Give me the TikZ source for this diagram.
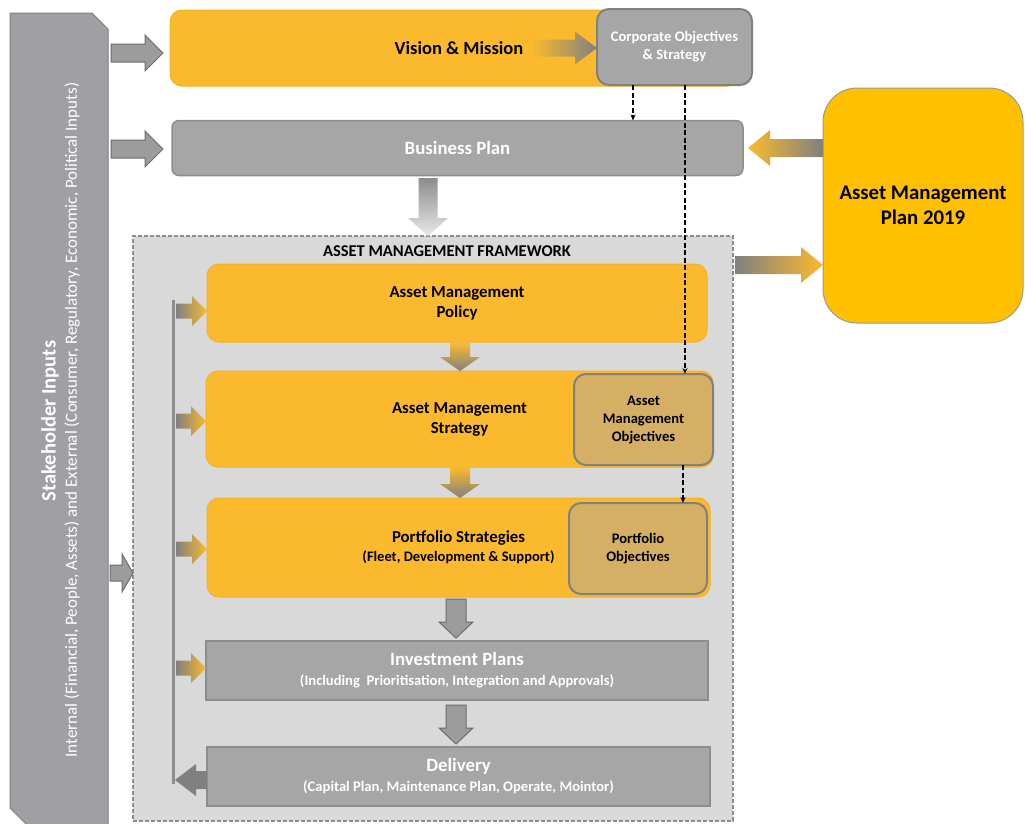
\documentclass[tikz,border=0pt]{standalone}
\usepackage{fontspec}
\setmainfont{Carlito}
\usetikzlibrary{calc,arrows.meta}

\definecolor{amber}{RGB}{251,186,46}
\definecolor{amberline}{RGB}{243,176,38}
\definecolor{gold}{RGB}{255,192,0}
\definecolor{tanfill}{RGB}{212,175,100}
\definecolor{boxgray}{RGB}{166,166,166}
\definecolor{edgegray}{RGB}{128,128,128}
\definecolor{panelgray}{RGB}{160,160,164}
\definecolor{framegray}{RGB}{217,217,217}
\definecolor{arrowgray}{RGB}{156,156,156}
\definecolor{darkarrow}{RGB}{128,128,128}

% horizontal block arrow: style, tail, tip, shaft half-height, head half-height, signed head length
\newcommand\harr[6]{%
  \path[#1] ($(#2)+(0,{-1*(#4)})$) -- ($(#3)+({-1*(#6)},{-1*(#4)})$)
    -- ($(#3)+({-1*(#6)},{-1*(#5)})$) -- (#3) -- ($(#3)+({-1*(#6)},#5)$)
    -- ($(#3)+({-1*(#6)},#4)$) -- ($(#2)+(0,#4)$) -- cycle;}
% vertical block arrow: style, tail, tip, shaft half-width, head half-width, signed head length
\newcommand\varr[6]{%
  \path[#1] ($(#2)+({-1*(#4)},0)$) -- ($(#3)+({-1*(#4)},{-1*(#6)})$)
    -- ($(#3)+({-1*(#5)},{-1*(#6)})$) -- (#3) -- ($(#3)+(#5,{-1*(#6)})$)
    -- ($(#3)+(#4,{-1*(#6)})$) -- ($(#2)+(#4,0)$) -- cycle;}

\begin{document}
\begin{tikzpicture}[x=1pt,y=-1pt,
  every node/.style={inner sep=0pt, outer sep=0pt, align=center},
  ambox/.style={fill=amber, draw=amberline, line width=1pt, rounded corners=12pt,
    font=\bfseries\fontsize{16.8}{20}\selectfont},
  graybox/.style={fill=boxgray, draw=edgegray!90, line width=1.5pt, text=white,
    font=\bfseries\fontsize{18.8}{22}\selectfont},
  objbox/.style={fill=tanfill, draw=edgegray, line width=2pt, rounded corners=12pt,
    font=\bfseries\fontsize{14.6}{18}\selectfont},
  blockgray/.style={fill=arrowgray, draw=edgegray!85!black, line width=1pt},
  link/.style={black, line width=1.3pt, dash pattern=on 5pt off 2.5pt,
    -{Stealth[length=6pt,width=5pt]}},
]
\useasboundingbox (0,0) rectangle (1025,823);

% stakeholder panel
\draw[fill=panelgray, draw=edgegray, line width=1pt]
  (10,13) -- (92,13) -- (108,29) -- (108,830) -- (32,830) -- (10,808) -- cycle;
\node[rotate=90, text=white, font=\bfseries\fontsize{20.5}{24}\selectfont] (shT) at (50,421) {Stakeholder Inputs};
\node[rotate=90, text=white, font=\fontsize{17}{20}\selectfont] (shS) at (72,420)
  {Internal (Financial, People, Assets) and External (Consumer, Regulatory, Economic, Political Inputs)};

% framework container
\node[fill=framegray, draw=edgegray!90, line width=1.2pt, dash pattern=on 4pt off 2pt,
  minimum width=600pt, minimum height=585pt] (fw) at (433,528.5) {};
\node[font=\bfseries\fontsize{16.5}{18}\selectfont] (fwt) at (447,251) {ASSET MANAGEMENT FRAMEWORK};

% top row
\node[ambox, font=\bfseries\fontsize{18.5}{22}\selectfont, minimum width=570pt, minimum height=76pt] (vm) at (455,48) {\hspace*{8pt}Vision \& Mission};
\node[fill=boxgray, draw=edgegray, line width=2pt, rounded corners=12pt, text=white,
  font=\bfseries\fontsize{14.6}{18}\selectfont, minimum width=155pt, minimum height=76pt]
  (corp) at (674.5,47) {Corporate Objectives\\\& Strategy};
\node[graybox, rounded corners=7pt, minimum width=571pt, minimum height=55pt] (bp) at (457.5,148) {Business Plan};

% asset management plan
\node[fill=gold, draw=edgegray!80, line width=1pt, rounded corners=34pt,
  font=\bfseries\fontsize{20.8}{25}\selectfont, minimum width=200pt, minimum height=235pt]
  (amp) at (923,205.5) {Asset Management\\Plan 2019};

% framework stages
\node[ambox, minimum width=500pt, minimum height=78pt] (pol) at (457,303) {Asset Management\\Policy};
\node[ambox, minimum width=507pt, minimum height=96pt] (str) at (459.5,419) {Asset Management\\Strategy};
\node[objbox, minimum width=139pt, minimum height=91pt] (amo) at (643.5,419.5) {Asset\\Management\\Objectives};
\node[ambox, minimum width=503pt, minimum height=99pt] (port) at (458.5,547.5)
  {Portfolio Strategies\\[-1pt]{\fontsize{14.5}{17}\selectfont (Fleet, Development \& Support)}};
\node[objbox, minimum width=138pt, minimum height=91pt] (po) at (638,548.5) {Portfolio\\Objectives};
\node[graybox, minimum width=502pt, minimum height=59pt] (inv) at (457,670.5)
  {Investment Plans\\[-2pt]{\fontsize{14.6}{16}\selectfont (Including\ \ Prioritisation, Integration and Approvals)}};
\node[graybox, minimum width=503pt, minimum height=59pt] (del) at (458.5,776.5)
  {Delivery\\[-2pt]{\fontsize{14.6}{16}\selectfont (Capital Plan, Maintenance Plan, Operate, Mointor)}};

% stakeholder inputs into the top boxes and the framework
\coordinate (s1) at (111,53);
\coordinate (s1tip) at ($(vm.west |- s1)+(-7,0)$);
\harr{blockgray}{s1}{s1tip}{9}{18}{18}
\coordinate (s2) at (111,149);
\coordinate (s2tip) at ($(bp.west |- s2)+(-9,0)$);
\harr{blockgray}{s2}{s2tip}{9}{18}{18}
\coordinate (s3) at (110,573);
\harr{blockgray}{s3}{fw.west |- s3}{8}{19}{11}

% vision feeds corporate objectives
\coordinate (v1) at (532,48);
\harr{left color=amber, right color=darkarrow}{v1}{corp.west |- v1}{8.5}{16.5}{22}

% business plan into framework
\coordinate (b1) at (428,178);
\varr{top color=darkarrow!90, bottom color=framegray!60}{b1}{b1 |- fw.north}{9.5}{20}{18}

% plan exchanges
\coordinate (a1) at (823,148);
\coordinate (a1tip) at ($(bp.east |- a1)+(5,0)$);
\harr{left color=amber, right color=darkarrow}{a1}{a1tip}{9}{18}{-22}
\coordinate (a2) at (735,265);
\harr{left color=darkarrow, right color=amber}{a2}{amp.west |- a2}{9}{18}{22}

% stage-to-stage arrows
\coordinate (c1) at (460,343);
\varr{top color=amber, bottom color=darkarrow}{c1}{c1 |- str.north}{10}{20}{14}
\coordinate (c2) at (460,467);
\varr{top color=amber, bottom color=darkarrow}{c2}{c2 |- port.north}{10}{20}{14}
\coordinate (c3) at (456,599);
\coordinate (c3tip) at ($(c3 |- inv.north)+(0,-3)$);
\varr{blockgray}{c3}{c3tip}{10}{17}{16}
\coordinate (c4) at (456,705);
\coordinate (c4tip) at ($(c4 |- del.north)+(0,-3)$);
\varr{blockgray}{c4}{c4tip}{10}{17}{16}

% feedback loop from delivery
\coordinate (fbTop) at (173,300);
\coordinate (fbBot) at (173,784);
\draw[draw=edgegray!90, line width=3pt] (fbTop) -- (fbBot);
\coordinate (dtip) at (175,780);
\harr{fill=darkarrow}{del.west |- dtip}{dtip}{9}{16}{-21}
\coordinate (f1) at (176,311);
\harr{left color=darkarrow, right color=amber}{f1}{pol.west |- f1}{7.5}{15}{15}
\coordinate (f2) at (176,421);
\harr{left color=darkarrow, right color=amber}{f2}{str.west |- f2}{7.5}{15}{15}
\coordinate (f3) at (176,549);
\harr{left color=darkarrow, right color=amber}{f3}{port.west |- f3}{7.5}{15}{15}
\coordinate (f4) at (176,668);
\harr{left color=darkarrow, right color=amber}{f4}{inv.west |- f4}{7.5}{15}{15}

% objective cascade
\coordinate (d1) at (633,0);
\draw[link] (d1 |- corp.south) -- (d1 |- bp.north);
\coordinate (d2) at (685,0);
\draw[link] (d2 |- corp.south) -- (d2 |- amo.north);
\coordinate (d3) at (683,0);
\draw[link] (d3 |- amo.south) -- (d3 |- po.north);
\end{tikzpicture}
\end{document}
